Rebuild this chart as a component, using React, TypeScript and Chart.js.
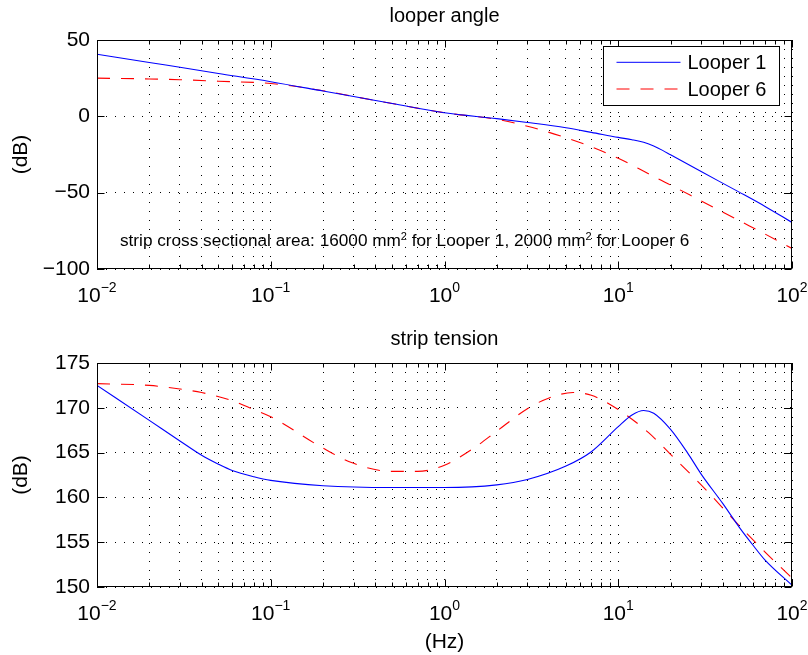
import React, { useEffect, useRef } from 'react';
import { Chart, registerables } from 'chart.js';

Chart.register(...registerables);

const FONT = "'Liberation Sans', Arial, Helvetica, sans-serif";

// ---------- data ----------
const seriesNames = ['Looper 1', 'Looper 6'];

const angleFreq1 = [0.01, 0.02, 0.03, 0.05, 0.1, 0.2, 0.3, 0.5, 1, 2, 3, 5, 7, 10, 12, 14, 16, 18, 20, 30, 50, 70, 100];
const angleLooper1 = [40.7, 35.3, 32.1, 28.1, 22.7, 16.6, 13.0, 8.4, 2.3, -1.5, -4.0, -7.5, -10.5, -13.8, -15.3, -17.0, -19.5, -22.3, -25.2, -36.2, -49.8, -59, -69.5];
const angleFreq6 = [0.01, 0.02, 0.03, 0.05, 0.1, 0.2, 0.3, 0.5, 1, 2, 3, 5, 7, 10, 13, 15, 17, 20, 30, 50, 70, 100];
const angleLooper6 = [25, 24.5, 24, 23, 21.5, 16.8, 13.0, 8.4, 2.3, -2, -6.5, -14, -20, -27.5, -34, -37.7, -41, -45, -55.4, -68.5, -77.1, -86.5];

const tensionFreq1 = [0.01, 0.02, 0.03, 0.04, 0.05, 0.06, 0.08, 0.1, 0.2, 0.5, 1, 2, 3, 5, 7, 10, 12, 14, 16, 20, 25, 30, 40, 50, 60, 70, 100];
const tensionLooper1 = [172.5, 168.6, 166.3, 164.7, 163.7, 163.0, 162.3, 161.9, 161.3, 161.1, 161.1, 161.4, 162.0, 163.5, 165.1, 167.9, 169.2, 169.7, 169.4, 167.6, 165.0, 162.6, 159.3, 156.6, 154.6, 153.0, 150.2];
const tensionFreq6 = [0.01, 0.02, 0.03, 0.04, 0.06, 0.08, 0.1, 0.2, 0.3, 0.5, 0.7, 1, 1.5, 2, 3, 4, 5.5, 7, 10, 15, 20, 30, 50, 70, 100];
const tensionLooper6 = [172.7, 172.5, 172.1, 171.7, 170.8, 169.8, 169.0, 165.5, 163.8, 162.9, 162.9, 163.6, 165.6, 167.4, 169.9, 171.1, 171.7, 171.4, 169.8, 167.2, 164.8, 161.4, 156.8, 153.9, 151.0];

const angleTicks = [-100, -50, 0, 50];
const tensionTicks = [150, 155, 160, 165, 170, 175];
const decadeExponents = [-2, -1, 0, 1, 2];

const topTitle = 'looper angle';
const bottomTitle = 'strip tension';
const yLabel = '(dB)';
const xLabel = '(Hz)';
const annotationParts = [
  { text: 'strip cross sectional area: 16000 mm', sup: false },
  { text: '2', sup: true },
  { text: ' for Looper 1, 2000 mm', sup: false },
  { text: '2', sup: true },
  { text: ' for Looper 6', sup: false },
];

// log-axis tick values 1..9 x 10^e
const xTickValues: number[] = [];
for (let i = 0; i < decadeExponents.length - 1; i++) {
  for (let m = 1; m <= 9; m++) {
    xTickValues.push(parseFloat((m * Math.pow(10, decadeExponents[i])).toPrecision(6)));
  }
}
xTickValues.push(Math.pow(10, decadeExponents[decadeExponents.length - 1]));

const BLUE = '#0000ff';
const RED = '#ff0000';
const DASH = [13, 11];

function font(size: number) {
  return `${size}px ${FONT}`;
}

function drawParts(ctx: CanvasRenderingContext2D, parts: { text: string; sup: boolean }[], x: number, y: number, size: number, supSize: number, rise: number) {
  let cx = x;
  for (const p of parts) {
    ctx.font = font(p.sup ? supSize : size);
    ctx.fillText(p.text, cx, p.sup ? y - rise : y);
    cx += ctx.measureText(p.text).width;
  }
}

const decorPlugin = {
  id: 'decor',
  afterDraw(chart: any, _args: any, opts: any) {
    const { ctx, chartArea: a } = chart;
    const xs = chart.scales.x;
    const ys = chart.scales.y;
    ctx.save();
    ctx.setLineDash([]);
    ctx.strokeStyle = '#000';
    ctx.fillStyle = '#000';
    ctx.lineWidth = 1;
    const L = Math.round(a.left) + 0.5;
    const R = Math.round(a.right) - 0.5;
    const T = Math.round(a.top) + 0.5;
    const B = Math.round(a.bottom) - 0.5;

    // inner tick marks
    ctx.beginPath();
    for (const v of xTickValues) {
      const px = Math.round(xs.getPixelForValue(v)) + 0.5;
      const major = Math.abs(Math.log10(v) - Math.round(Math.log10(v))) < 1e-9;
      const len = major ? 7 : 4;
      ctx.moveTo(px, B);
      ctx.lineTo(px, B - len);
      ctx.moveTo(px, T);
      ctx.lineTo(px, T + len);
    }
    for (const t of ys.ticks) {
      const py = Math.round(ys.getPixelForValue(t.value)) + 0.5;
      ctx.moveTo(L, py);
      ctx.lineTo(L + 7, py);
      ctx.moveTo(R, py);
      ctx.lineTo(R - 7, py);
    }
    ctx.stroke();

    // box
    ctx.strokeRect(L, T, R - L, B - T);

    // x tick labels 10^e
    ctx.textBaseline = 'alphabetic';
    ctx.textAlign = 'left';
    for (const e of decadeExponents) {
      const px = xs.getPixelForValue(Math.pow(10, e));
      const base = '10';
      const sup = e < 0 ? '\u2212' + String(-e) : String(e);
      ctx.font = font(21);
      const wb = ctx.measureText(base).width;
      ctx.font = font(14);
      const ws = ctx.measureText(sup).width;
      const x0 = px - (wb + ws) / 2;
      ctx.font = font(21);
      ctx.fillText(base, x0, a.bottom + 32.7);
      ctx.font = font(14);
      ctx.fillText(sup, x0 + wb, a.bottom + 22.7);
    }

    // title
    ctx.textAlign = 'center';
    ctx.font = font(20);
    ctx.fillText(opts.title, (a.left + a.right) / 2, a.top - 18);

    // y label
    ctx.save();
    ctx.translate(21, (a.top + a.bottom) / 2);
    ctx.rotate(-Math.PI / 2);
    ctx.textBaseline = 'middle';
    ctx.font = font(21);
    ctx.fillText(yLabel, 0, 0);
    ctx.restore();

    // x label
    if (opts.xLabel) {
      ctx.font = font(21);
      ctx.textAlign = 'center';
      ctx.fillText(xLabel, (a.left + a.right) / 2, a.bottom + 61);
    }

    // annotation
    if (opts.annotation) {
      ctx.textAlign = 'left';
      drawParts(ctx, annotationParts, a.left + 23, a.top + 206, 17.2, 11, 6);
    }

    // legend
    if (opts.legend) {
      const bx = Math.round(a.right - 189) + 0.5;
      const by = Math.round(a.top + 6) + 0.5;
      const bw = 176;
      const bh = 59;
      ctx.fillStyle = '#fff';
      ctx.fillRect(bx, by, bw, bh);
      ctx.strokeStyle = '#000';
      ctx.strokeRect(bx, by, bw, bh);
      const rows = [
        { y: a.top + 22.3, color: BLUE, dash: [] as number[] },
        { y: a.top + 49, color: RED, dash: DASH },
      ];
      rows.forEach((r, i) => {
        ctx.beginPath();
        ctx.strokeStyle = r.color;
        ctx.setLineDash(r.dash);
        ctx.moveTo(bx + 13, r.y);
        ctx.lineTo(bx + 77, r.y);
        ctx.stroke();
        ctx.setLineDash([]);
        ctx.fillStyle = '#000';
        ctx.font = font(20);
        ctx.textAlign = 'left';
        ctx.textBaseline = 'middle';
        ctx.fillText(seriesNames[i], bx + 84, r.y + 1);
      });
    }
    ctx.restore();
  },
};

function makeConfig(
  sets: { x: number[]; y: number[] }[],
  yMin: number,
  yMax: number,
  yTicks: number[],
  padTop: number,
  xAxisH: number,
  decor: any
): any {
  const gridCommon = { color: '#000', lineWidth: 1, drawTicks: false };
  return {
    type: 'line',
    data: {
      datasets: sets.map((s, i) => ({
        label: seriesNames[i],
        data: s.x.map((f, k) => ({ x: f, y: s.y[k] })),
        borderColor: i === 0 ? BLUE : RED,
        borderDash: i === 0 ? [] : DASH,
        borderWidth: 1.1,
        pointRadius: 0,
        fill: false,
        cubicInterpolationMode: 'monotone',
      })),
    },
    plugins: [decorPlugin],
    options: {
      animation: false,
      responsive: false,
      maintainAspectRatio: false,
      events: [],
      layout: { padding: { left: 0, right: 16, top: padTop, bottom: 0 } },
      plugins: {
        legend: { display: false },
        title: { display: false },
        tooltip: { enabled: false },
        decor,
      },
      scales: {
        x: {
          type: 'logarithmic',
          min: 0.01,
          max: 100,
          afterBuildTicks: (s: any) => {
            s.ticks = xTickValues.map((v) => ({ value: v }));
          },
          afterFit: (s: any) => {
            s.height = xAxisH;
          },
          ticks: { display: false },
          grid: gridCommon,
          border: { display: false, dash: [1, 8] },
        },
        y: {
          type: 'linear',
          min: yMin,
          max: yMax,
          afterBuildTicks: (s: any) => {
            s.ticks = yTicks.map((v) => ({ value: v }));
          },
          afterFit: (s: any) => {
            s.width = 97;
          },
          ticks: {
            font: { size: 21, family: FONT },
            color: '#000',
            padding: 7,
            autoSkip: false,
            callback: (v: number) => String(v).replace('-', '\u2212'),
          },
          grid: gridCommon,
          border: { display: false, dash: [1, 8] },
        },
      },
    },
  };
}

export default function App() {
  const topRef = useRef<HTMLCanvasElement>(null);
  const botRef = useRef<HTMLCanvasElement>(null);

  useEffect(() => {
    const c1 = new Chart(
      topRef.current!,
      makeConfig(
        [
          { x: angleFreq1, y: angleLooper1 },
          { x: angleFreq6, y: angleLooper6 },
        ],
        -100,
        50,
        angleTicks,
        40,
        51,
        { title: topTitle, legend: true, annotation: true, xLabel: false }
      )
    );
    const c2 = new Chart(
      botRef.current!,
      makeConfig(
        [
          { x: tensionFreq1, y: tensionLooper1 },
          { x: tensionFreq6, y: tensionLooper6 },
        ],
        150,
        175,
        tensionTicks,
        43,
        68,
        { title: bottomTitle, legend: false, annotation: false, xLabel: true }
      )
    );
    return () => {
      c1.destroy();
      c2.destroy();
    };
  }, []);

  return (
    <div style={{ position: 'fixed', left: 0, top: 0, width: 808, height: 655, background: '#fff' }}>
      <canvas ref={topRef} width={808} height={320} style={{ position: 'absolute', left: 0, top: 0, width: 808, height: 320 }} />
      <canvas ref={botRef} width={808} height={335} style={{ position: 'absolute', left: 0, top: 320, width: 808, height: 335 }} />
    </div>
  );
}
